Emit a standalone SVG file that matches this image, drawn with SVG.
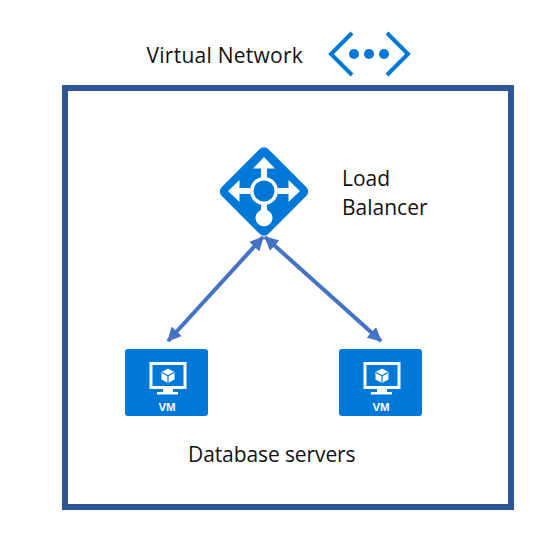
<svg xmlns="http://www.w3.org/2000/svg" xmlns:xlink="http://www.w3.org/1999/xlink" width="553" height="535" viewBox="0 0 553 535">
<style>
.t{font-family:"Open Sans","Noto Sans","Liberation Sans",sans-serif;font-size:21px;fill:#111}
.vmbg{fill:#0078d7}
.vmt{font-family:"Liberation Sans",Arial,sans-serif;font-size:11.500px;font-weight:bold;fill:#fff;text-anchor:middle}
.conn{fill:none;stroke:#4472c4;stroke-width:4;marker-start:url(#a);marker-end:url(#a)}
</style>
<defs>
<marker id="a" viewBox="0 0 14 14" refX="13" refY="7" markerUnits="userSpaceOnUse" markerWidth="14" markerHeight="14" orient="auto-start-reverse"><path d="M0 0L14 7L0 14Z" fill="#4472c4"/></marker>
<g id="vm">
<rect width="83" height="67" rx="3" class="vmbg"/>
<rect x="26" y="14.500" width="34" height="24" fill="none" stroke="#fff" stroke-width="3"/>
<path d="M38 39h10v4h5v2.500h-21v-2.500h6z" fill="#fff"/>
<path d="M43 19.500l6.500 3.500v7.500l-6.500 3.500l-6.500-3.500v-7.500z" fill="#fff"/>
<path d="M37 23.500l6 3.300l6-3.300M43 26.800v7" fill="none" stroke="#0078d7" stroke-width="1.200"/>
<text x="42" y="62" class="vmt">VM</text>
</g>
</defs>
<rect id="frame" x="65" y="88" width="446" height="419" fill="#fff" stroke="#2f5597" stroke-width="6"/>
<g id="virtual-network">
<text x="146.500" y="62.500" class="t" letter-spacing="0.250">Virtual Network</text>
<path d="M352 33L331 54L352 75M387 33L408 54L387 75" fill="none" stroke="#0078d7" stroke-width="4"/>
<circle cx="354" cy="54" r="5" fill="#0078d7"/><circle cx="369" cy="54" r="5" fill="#0078d7"/><circle cx="384" cy="54" r="5" fill="#0078d7"/>
</g>
<g id="load-balancer">
<rect x="231" y="158.500" width="66" height="66" rx="6" transform="rotate(45 264 191.500)" fill="#0078d7"/>
<path d="M264 157L275 168.500H267V178H261V168.500H253ZM228 191L239.500 180V188H250V194H239.500V202ZM300 191L288.500 180V188H278V194H288.500V202ZM261 204H267V212H261Z" fill="#fff"/>
<circle cx="264" cy="191" r="14" fill="#fff"/><circle cx="264" cy="191" r="10.500" fill="#0078d7"/>
<circle cx="264" cy="218" r="8.500" fill="#fff"/>
<text x="342" y="186" class="t">Load</text>
<text x="342" y="215" class="t">Balancer</text>
</g>
<g id="vm-1"><use href="#vm" x="125" y="349"/></g>
<g id="vm-2"><use href="#vm" x="339" y="349"/></g>
<text id="database-servers" x="188" y="462" class="t" letter-spacing="-0.100">Database servers</text>
<g id="connectors">
<path class="conn" d="M263 237L168 341"/>
<path class="conn" d="M265 237L381 341"/>
</g>
</svg>
